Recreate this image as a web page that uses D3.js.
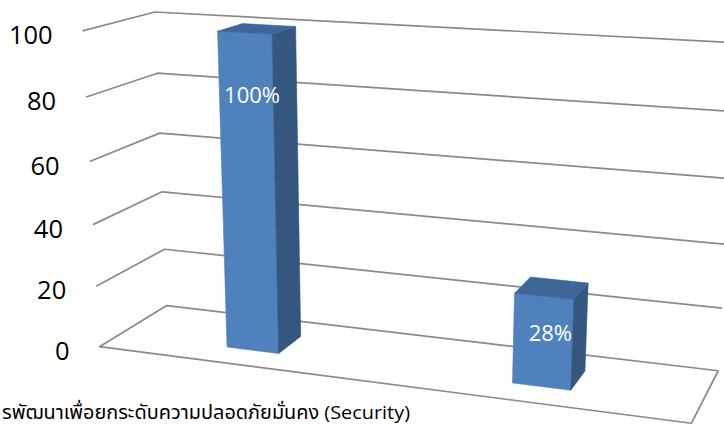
<!DOCTYPE html>
<html><head><meta charset="utf-8">
<script src="https://cdn.jsdelivr.net/npm/d3@7"></script>
<style>
  body { margin: 0; background: #fff; }
  svg { display: block; }
  text { font-family: "Open Sans", "Noto Sans Thai", "Noto Sans", sans-serif; }
</style></head>
<body>
<script>
// ---- data ----
const categories = ["รพัฒนาเพื่อยกระดับความปลอดภัยมั่นคง (Security)", ""];
const values = [100, 28];
const yTicks = [0, 20, 40, 60, 80, 100];

// ---- layout ----
const W = 724, H = 425;
const colors = { front: "#4f81bd", side: "#34567f", top: "#3e6697", grid: "#8a8a8a" };

// 3D box coordinates: x across categories (0..1), y up (0..1), z into the page (0 front .. 1 back wall)
// Perspective camera as a 3x4 homogeneous projection matrix.
const camera = [
  [510.3255, -21.36984, 80.48224, 99.47905],
  [26.57093, -317.4382, -16.91154, 346.6689],
  [-0.1181247, -0.05485097, 0.07923711, 1]
];
function project(x, y, z) {
  const r = camera.map(c => c[0] * x + c[1] * y + c[2] * z + c[3]);
  return [r[0] / r[2], r[1] / r[2]];
}

const xBand = d3.scaleBand().domain(d3.range(values.length)).range([0, 1])
  .paddingInner(0.81).paddingOuter(0.405);
const yVal = d3.scaleLinear().domain([0, 100]).range([0, 1]);
const barDepth = [0.30, 0.685];           // front and back z of every column
const labelHeight = [0.805, 0.5];         // label anchor, fraction of column height
const labelDepth = [0.39, 0.4925];        // label anchor depth

const svg = d3.select("body").append("svg").attr("width", W).attr("height", H);
const poly = d3.line().curve(d3.curveLinearClosed);
const open = d3.line();
const P = pts => pts.map(p => project(...p));

// floor
svg.append("path")
  .attr("d", poly(P([[0, 0, 0], [0, 0, 1], [1, 0, 1], [1, 0, 0]])))
  .attr("fill", "#fff").attr("stroke", colors.grid).attr("stroke-width", 1.7)
  .attr("stroke-linejoin", "round");

// gridlines along the side wall and back wall
svg.append("g").selectAll("path").data(yTicks.filter(t => t > 0)).join("path")
  .attr("d", t => open(P([[0, yVal(t), 0], [0, yVal(t), 1], [1, yVal(t), 1]])))
  .attr("fill", "none").attr("stroke", colors.grid).attr("stroke-width", 1.7)
  .attr("stroke-linejoin", "round");

// value axis labels
svg.append("g").selectAll("text").data(yTicks).join("text")
  .attr("x", t => project(0, yVal(t), 0)[0] - 30)
  .attr("y", t => project(0, yVal(t), 0)[1] + 4)
  .attr("dy", "0.357em")
  .attr("text-anchor", "end")
  .attr("font-size", 25.5).attr("fill", "#000")
  .text(t => t);

// columns
const [z0, z1] = barDepth;
const bars = svg.append("g").selectAll("g").data(values).join("g");
bars.each(function (v, i) {
  const g = d3.select(this);
  const x0 = xBand(i), x1 = x0 + xBand.bandwidth(), y1 = yVal(v);
  const faces = [
    { fill: colors.front, pts: [[x0, 0, z0], [x1, 0, z0], [x1, y1, z0], [x0, y1, z0]] },
    { fill: colors.side, pts: [[x1, 0, z0], [x1, 0, z1], [x1, y1, z1], [x1, y1, z0]] },
    { fill: colors.top, pts: [[x0, y1, z0], [x1, y1, z0], [x1, y1, z1], [x0, y1, z1]] }
  ];
  faces.forEach(f => g.append("path").attr("d", poly(P(f.pts)))
    .attr("fill", f.fill).attr("stroke", f.fill).attr("stroke-width", 0.6)
    .attr("stroke-linejoin", "round"));
});

// data labels
svg.append("g").selectAll("text").data(values).join("text")
  .attr("x", (v, i) => project(xBand(i) + xBand.bandwidth() / 2, yVal(v) * labelHeight[i], labelDepth[i])[0])
  .attr("y", (v, i) => project(xBand(i) + xBand.bandwidth() / 2, yVal(v) * labelHeight[i], labelDepth[i])[1])
  .attr("dy", "0.357em")
  .attr("text-anchor", "middle")
  .attr("font-size", 22).attr("fill", "#fff")
  .text(v => `${v}%`);

// category label
svg.append("text")
  .attr("x", 2).attr("y", project(0, 0, 0)[1] + 72.5)
  .attr("font-size", 19).attr("fill", "#000")
  .attr("textLength", 408).attr("lengthAdjust", "spacingAndGlyphs")
  .text(categories[0]);
</script>
</body></html>
